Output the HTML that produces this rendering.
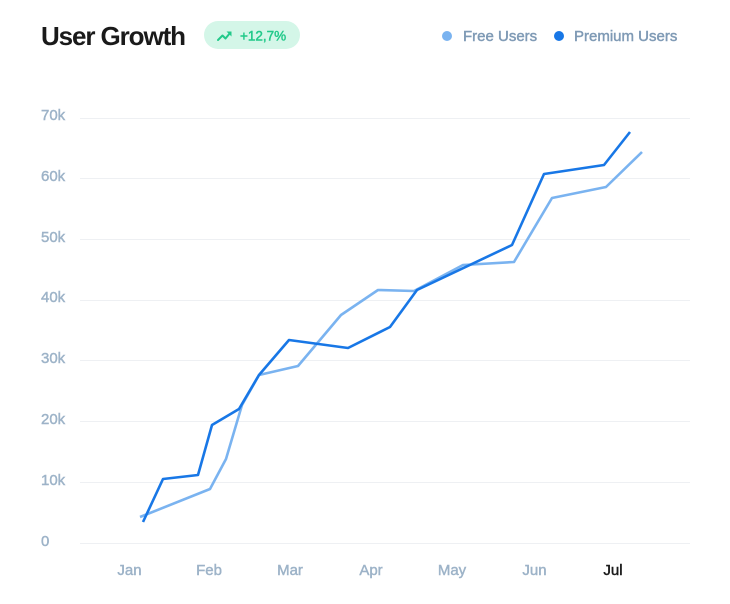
<!DOCTYPE html>
<html>
<head>
<meta charset="utf-8">
<style>
  html,body{margin:0;padding:0;background:#fff;}
  body{width:730px;height:604px;overflow:hidden;font-family:"Liberation Sans",sans-serif;}
  svg{display:block;}
  text{font-family:"Liberation Sans",sans-serif;}
</style>
</head>
<body>
<svg width="730" height="604" viewBox="0 0 730 604" xmlns="http://www.w3.org/2000/svg">
  <rect width="730" height="604" fill="#ffffff"/>
  <!-- Title -->
  <text x="41" y="45" font-size="26" font-weight="bold" fill="#1a1a1a" letter-spacing="-1.1">User Growth</text>
  <!-- Badge -->
  <rect x="204" y="21" width="96" height="28" rx="14" fill="#d4f6e8"/>
  <polyline points="218,40 222.5,35.5 225.5,38.5 230,33" fill="none" stroke="#22c98a" stroke-width="2" stroke-linejoin="round" stroke-linecap="round"/>
  <polygon points="226.5,31.5 231.5,31.5 231.5,36.5" fill="#22c98a"/>
  <text x="240" y="40.5" font-size="13.5" fill="#22c98a" stroke="#22c98a" stroke-width="0.45">+12,7%</text>
  <!-- Legend -->
  <circle cx="447" cy="36" r="5" fill="#7ab3f0"/>
  <text x="463" y="41" font-size="15" fill="#7f9ab5" stroke="#7f9ab5" stroke-width="0.45">Free Users</text>
  <circle cx="559" cy="36" r="5" fill="#1877e6"/>
  <text x="574" y="41" font-size="15" fill="#7f9ab5" stroke="#7f9ab5" stroke-width="0.45">Premium Users</text>
  <!-- Grid -->
  <g stroke="#eef0f3" stroke-width="1">
    <line x1="80" y1="118.5" x2="690" y2="118.5"/>
    <line x1="80" y1="178.5" x2="690" y2="178.5"/>
    <line x1="80" y1="239.5" x2="690" y2="239.5"/>
    <line x1="80" y1="300.5" x2="690" y2="300.5"/>
    <line x1="80" y1="360.5" x2="690" y2="360.5"/>
    <line x1="80" y1="421.5" x2="690" y2="421.5"/>
    <line x1="80" y1="482.5" x2="690" y2="482.5"/>
    <line x1="80" y1="543.5" x2="690" y2="543.5"/>
  </g>
  <!-- Y labels -->
  <g font-size="15" fill="#9db3c8" stroke="#9db3c8" stroke-width="0.45">
    <text x="41" y="120">70k</text>
    <text x="41" y="181">60k</text>
    <text x="41" y="242">50k</text>
    <text x="41" y="302">40k</text>
    <text x="41" y="363">30k</text>
    <text x="41" y="424">20k</text>
    <text x="41" y="485">10k</text>
    <text x="41" y="546">0</text>
  </g>
  <!-- X labels -->
  <g font-size="15" fill="#9db3c8" stroke="#9db3c8" stroke-width="0.45" text-anchor="middle">
    <text x="129.5" y="575">Jan</text>
    <text x="209" y="575">Feb</text>
    <text x="290" y="575">Mar</text>
    <text x="371" y="575">Apr</text>
    <text x="452" y="575">May</text>
    <text x="534.5" y="575">Jun</text>
  </g>
  <text x="613" y="575" font-size="15" fill="#1c1c1c" stroke="#1c1c1c" stroke-width="0.45" text-anchor="middle">Jul</text>
  <!-- Series -->
  <polyline fill="none" stroke="#7ab3f0" stroke-width="2.6" stroke-linejoin="round"
    points="140,517 210,489 226,459 242,405 259,375 298,366 341,315 378,290 414,291 463,265 514,262 552,198 606,187 642,152"/>
  <polyline fill="none" stroke="#1877e6" stroke-width="2.6" stroke-linejoin="round"
    points="143,522 163,479 198,475 212,425 239,409 259,375 289,340 348,348 390,327 417,290 512,245 544,174 604,165 630,132"/>
</svg>
</body>
</html>
